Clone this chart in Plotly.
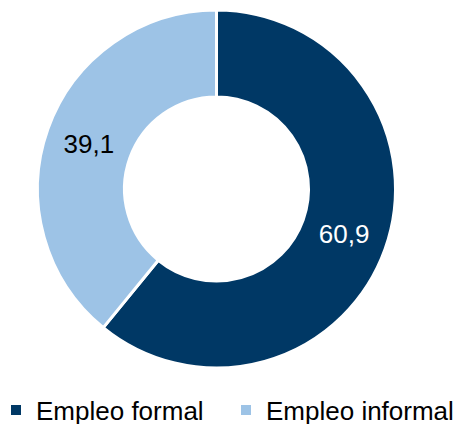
import plotly.graph_objects as go

labels = ["Empleo formal", "Empleo informal"]
values = [60.9, 39.1]
text_labels = ["60,9", "39,1"]
colors = ["#003865", "#9DC3E6"]
text_colors = ["#FFFFFF", "#000000"]

# the page body adds an 8px margin, so the figure is drawn 8px in from the window corner
OFF = 8
W, H = 469 - OFF, 424 - OFF
MB = 40                      # bottom margin reserved for the legend
PH = H - MB                  # plot-area height
cx, cy, r = 216.5 - OFF, 189 - OFF, 179

fig = go.Figure(go.Pie(
    labels=labels,
    values=values,
    text=text_labels,
    textinfo="text",
    textposition="inside",
    insidetextorientation="horizontal",
    insidetextfont=dict(family="Liberation Sans, Arial, sans-serif", size=26, color=text_colors),
    hole=0.514,
    sort=False,
    direction="clockwise",
    rotation=0,
    marker=dict(colors=colors, line=dict(color="#FFFFFF", width=3)),
    domain=dict(x=[(cx - r) / W, (cx + r) / W], y=[1 - (cy + r) / PH, 1 - (cy - r) / PH]),
    hoverinfo="label+text",
))

fig.update_layout(
    width=W, height=H,
    margin=dict(l=0, r=0, t=0, b=MB, autoexpand=False),
    paper_bgcolor="#FFFFFF",
    plot_bgcolor="#FFFFFF",
    showlegend=True,
    legend=dict(
        orientation="h",
        x=-12 / W, xanchor="left",
        y=1 - (410 - OFF) / PH, yanchor="middle",
        font=dict(family="Liberation Sans, Arial, sans-serif", size=26, color="#000000"),
        itemsizing="constant",
        itemwidth=30,
        entrywidth=185,
        traceorder="normal",
    ),
)

fig.write_html("out.html")
